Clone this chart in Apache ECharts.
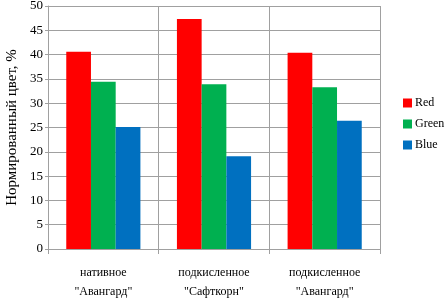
<!DOCTYPE html>
<html>
<head>
    <meta charset="utf-8">
    <script src="https://cdn.jsdelivr.net/npm/echarts@6/dist/echarts.min.js"></script>
    <style>
        * { margin: 0; padding: 0; }
        #chart { width: 446px; height: 300px; }
    </style>
</head>
<body>
<div id="chart"></div>
<script>
    // данные
    let categories = ['нативное\n"Авангард"', 'подкисленное\n"Сафткорн"', 'подкисленное\n"Авангард"'];
    let red = [40.6, 47.3, 40.4];
    let green = [34.4, 33.9, 33.3];
    let blue = [25.1, 19.1, 26.4];

    let font = '"Liberation Serif", "Times New Roman", serif';
    let chart = echarts.init(document.getElementById('chart'));

    let bar = (name, data, color) => ({
        name, data, type: 'bar',
        itemStyle: { color },
        barGap: '0%',
        barCategoryGap: '33%'
    });

    chart.setOption({
        backgroundColor: '#fff',
        animation: false,
        textStyle: { fontFamily: font },
        grid: { left: 48, right: 66, top: 6, bottom: 51, outerBoundsMode: 'none' },
        legend: {
            orient: 'vertical',
            left: 398, top: 92,
            itemWidth: 9, itemHeight: 9,
            itemGap: 9,
            icon: 'rect',
            textStyle: { fontFamily: font, fontSize: 12, color: '#000', padding: [0, 0, 0, -2] },
            data: ['Red', 'Green', 'Blue']
        },
        xAxis: {
            type: 'category',
            data: categories,
            axisLine: { lineStyle: { color: '#a0a0a0' } },
            axisTick: { show: true, length: 5, lineStyle: { color: '#a0a0a0' } },
            splitLine: { show: true, lineStyle: { color: '#a0a0a0' } },
            axisLabel: { fontFamily: font, fontSize: 12, color: '#000', margin: 14, lineHeight: 19 }
        },
        yAxis: {
            type: 'value',
            min: 0, max: 50, interval: 5,
            name: 'Нормированный цвет, %',
            nameLocation: 'middle',
            nameGap: 27,
            nameTextStyle: { fontFamily: font, fontSize: 15, color: '#000' },
            axisLine: { show: true, lineStyle: { color: '#a0a0a0' } },
            axisTick: { show: true, length: 3, lineStyle: { color: '#a0a0a0' } },
            splitLine: { lineStyle: { color: '#a0a0a0' } },
            axisLabel: { fontFamily: font, fontSize: 13, color: '#000', margin: 5 }
        },
        series: [
            bar('Red', red, '#ff0000'),
            bar('Green', green, '#00b050'),
            bar('Blue', blue, '#0070c0')
        ]
    });
</script>
</body>
</html>
